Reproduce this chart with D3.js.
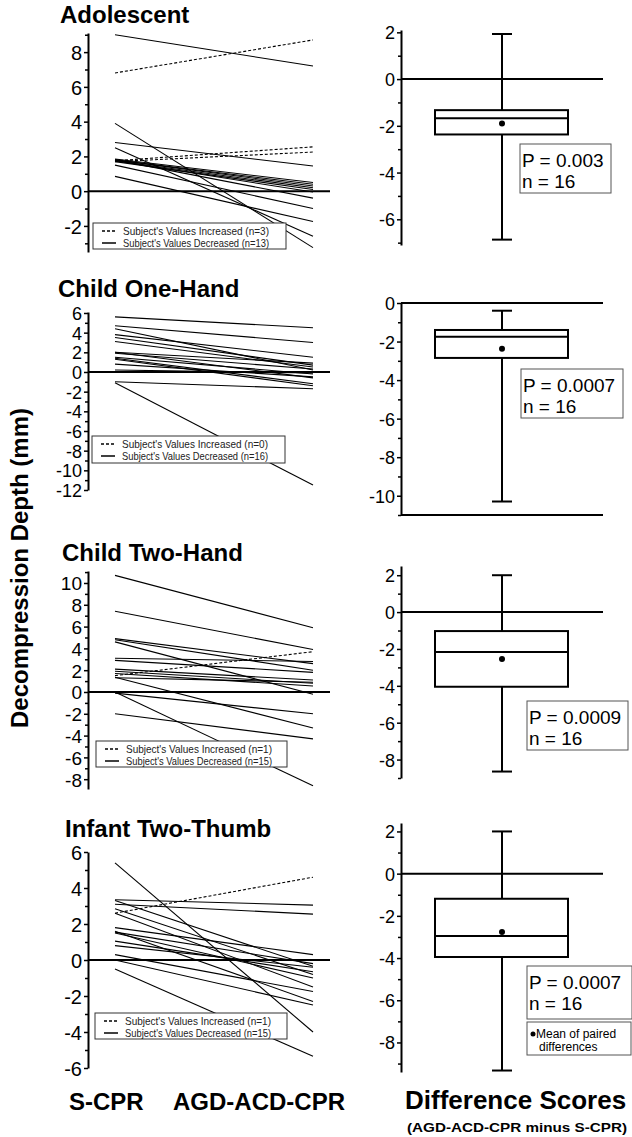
<!DOCTYPE html>
<meta charset="utf-8">
<html>
<head>
<style>
body { margin: 0; background: #fff; }
svg { display: block; font-family: "Liberation Sans", Arial, sans-serif; }
</style>
</head>
<body>
<svg id="chart" width="632" height="1137"></svg>
<script src="https://cdn.jsdelivr.net/npm/d3@7/dist/d3.min.js"></script>
<script>

const groups = ["Adolescent", "Child One-Hand", "Child Two-Hand", "Infant Two-Thumb"]

// paired values, S-CPR then AGD-ACD-CPR (mm)
const adolescentS = [6.8, 1.75, 1.7, 9.0, 3.9, 2.8, 2.5, 1.85, 1.8, 1.8, 1.75, 1.7, 1.75, 1.8, 1.5, 0.85]
const adolescentA = [8.7, 2.55, 2.25, 7.2, -3.25, 1.45, -2.6, 0.5, 0.4, 0.3, 0.2, 0.1, -0.05, -0.4, -1.0, -1.75]
const oneHandS = [5.6, 4.7, 4.4, 3.8, 3.5, 3.1, 2.0, 1.9, 1.5, 1.4, 1.3, 0.8, 0.2, 2.0, -1.0, -1.1]
const oneHandA = [4.5, 3.0, 0.2, 1.5, 0.7, 0.5, 0.9, 0.3, -0.2, -1.2, -1.4, -0.5, -0.1, -0.6, -1.7, -11.5]
const twoHandS = [10.7, 7.4, 4.9, 4.8, 4.6, 3.1, 2.9, 2.1, 1.9, 1.7, 1.5, 1.35, 1.3, 0.0, -0.1, -2.0]
const twoHandA = [5.9, 3.9, 2.6, 2.0, -0.2, 2.8, 1.8, 1.1, 0.8, 0.55, 3.7, -3.3, 0.9, -8.6, -2.0, -4.3]
const infantS = [5.4, 3.35, 3.1, 2.6, 2.85, 2.6, 1.8, 1.55, 1.5, 1.05, 0.8, 0.3, 1.6, 0.0, -0.5, 3.3]
const infantA = [-4.0, 3.05, 2.55, 4.6, -0.8, -1.5, 0.3, -0.2, -1.0, -0.65, -0.4, -1.75, -2.3, -2.5, -5.35, -0.35]

const increasedN = [3, 0, 1, 1]
const decreasedN = [13, 16, 15, 15]

// difference score box plots
const whiskerHigh = [1.93, -0.4, 2.0, 2.0]
const boxQ3 = [-1.33, -1.4, -1.03, -1.19]
const boxMedian = [-1.68, -1.75, -2.16, -2.95]
const boxQ1 = [-2.37, -2.85, -4.05, -3.95]
const whiskerLow = [-6.87, -10.3, -8.65, -9.33]
const meanDiff = [-1.9, -2.37, -2.54, -2.76]
const pValues = ["0.003", "0.0007", "0.0009", "0.0007"]
const nValues = [16, 16, 16, 16]

const leftTicks = [d3.range(-2, 9, 2), d3.range(-12, 7, 2), d3.range(-8, 11, 2), d3.range(-6, 7, 2)]
const rightTicks = [d3.range(-6, 3, 2), d3.range(-10, 1, 2), d3.range(-8, 3, 2), d3.range(-8, 3, 2)]

const pairs = [[adolescentS, adolescentA], [oneHandS, oneHandA], [twoHandS, twoHandA], [infantS, infantA]]

// layout (pixels)
const leftLayout = [
  {dom: [-3.5, 9.1], rng: [252, 33], title: 23, tick: 20, leg: [93, 223, 193, 26]},
  {dom: [-12, 6.1], rng: [490, 312], title: 297, tick: 18, leg: [92, 436, 193, 27]},
  {dom: [-8.9, 11.1], rng: [789, 571], title: 561, tick: 19, leg: [96, 741, 191, 26]},
  {dom: [-6, 6], rng: [1068, 852], title: 837, tick: 20, leg: [95, 1013, 192, 26]}
]
const rightLayout = [
  {dom: [-7.1, 2.1], rng: [245, 30], pbox: [520, 144, 91, 49]},
  {dom: [-11, 0], rng: [515, 303], pbox: [521, 369, 102, 49]},
  {dom: [-9, 2.5], rng: [778, 566], pbox: [527, 701, 101, 49]},
  {dom: [-9.4, 2.4], rng: [1072, 823], pbox: [527, 966, 105, 53]}
]
const titleX = [60, 58, 62, 65]

const svg = d3.select("#chart")
const x = d3.scalePoint().domain(["S-CPR", "AGD-ACD-CPR"]).range([115, 313])
const axL = 88, axR = 401, bx = 502
const fmt = d => String(d)   // plain hyphen minus, like the original

groups.forEach((g, i) => {
  const L = leftLayout[i], R = rightLayout[i]

  // ---- left: paired lines
  const y = d3.scaleLinear().domain(L.dom).range(L.rng)
  const gl = svg.append("g")

  gl.append("text").attr("x", titleX[i]).attr("y", L.title)
    .attr("font-size", 24).attr("font-weight", "bold").text(g)

  const minor = d3.range(Math.ceil(L.dom[0]), Math.floor(L.dom[1]) + 1).filter(v => Math.abs(v % 2) == 1)
  gl.append("g").attr("transform", "translate(" + axL + ",0)")
    .call(d3.axisLeft(y).tickValues(minor).tickSize(3).tickFormat(""))
    .call(s => s.select(".domain").remove())
    .selectAll("line").attr("stroke-width", 1.5)
  const ax = gl.append("g").attr("transform", "translate(" + axL + ",0)")
    .call(d3.axisLeft(y).tickValues(leftTicks[i]).tickFormat(fmt).tickSize(4).tickPadding(2).tickSizeOuter(0))
  ax.select(".domain").attr("stroke-width", 2)
  ax.selectAll("line").attr("stroke-width", 1.5)
  ax.selectAll("text").attr("font-size", L.tick).attr("font-family", "Liberation Sans, Arial").attr("dy", "0.36em")

  gl.append("line").attr("x1", axL).attr("x2", 330).attr("y1", y(0)).attr("y2", y(0))
    .attr("stroke", "#000").attr("stroke-width", 2)

  const S = pairs[i][0], A = pairs[i][1]
  gl.selectAll("line.pair").data(S.map((s, k) => ({s: s, a: A[k]})))
    .join("line").attr("class", "pair")
    .attr("x1", x("S-CPR")).attr("x2", x("AGD-ACD-CPR"))
    .attr("y1", d => y(d.s)).attr("y2", d => y(d.a))
    .attr("stroke", "#000").attr("stroke-width", 1.1)
    .attr("stroke-dasharray", d => d.a > d.s ? "3,2" : null)

  // legend
  const lg = gl.append("g")
  lg.append("rect").attr("x", L.leg[0]).attr("y", L.leg[1]).attr("width", L.leg[2]).attr("height", L.leg[3])
    .attr("fill", "#fff").attr("stroke", "#333").attr("stroke-width", 1)
  const legRows = [["3,2", "Subject's Values Increased (n=" + increasedN[i] + ")"],
                   [null, "Subject's Values Decreased (n=" + decreasedN[i] + ")"]]
  legRows.forEach((r, k) => {
    const ly = L.leg[1] + 8 + k * 12
    lg.append("line").attr("x1", L.leg[0] + 9).attr("x2", L.leg[0] + 23).attr("y1", ly).attr("y2", ly)
      .attr("stroke", "#000").attr("stroke-width", 1.5).attr("stroke-dasharray", r[0])
    lg.append("text").attr("x", L.leg[0] + 30).attr("y", ly + 4).attr("font-size", 11)
      .attr("textLength", 146).attr("lengthAdjust", "spacingAndGlyphs").attr("fill", "#222").text(r[1])
  })

  // ---- right: box plot of differences
  const yr = d3.scaleLinear().domain(R.dom).range(R.rng)
  const gr = svg.append("g")
  const rminor = d3.range(Math.ceil(R.dom[0]), Math.floor(R.dom[1]) + 1).filter(v => Math.abs(v % 2) == 1)
  gr.append("g").attr("transform", "translate(" + axR + ",0)")
    .call(d3.axisLeft(yr).tickValues(rminor).tickSize(3).tickFormat(""))
    .call(s => s.select(".domain").remove())
    .selectAll("line").attr("stroke-width", 1.5)
  const axr = gr.append("g").attr("transform", "translate(" + axR + ",0)")
    .call(d3.axisLeft(yr).tickValues(rightTicks[i]).tickFormat(fmt).tickSize(4).tickPadding(2).tickSizeOuter(0))
  axr.select(".domain").attr("stroke-width", 2)
  axr.selectAll("line").attr("stroke-width", 1.5)
  axr.selectAll("text").attr("font-size", 18).attr("font-family", "Liberation Sans, Arial").attr("dy", "0.36em")

  gr.append("line").attr("x1", axR).attr("x2", 603).attr("y1", yr(0)).attr("y2", yr(0))
    .attr("stroke", "#000").attr("stroke-width", 2)
  if (R.dom[0] == -11) {
    gr.append("line").attr("x1", axR).attr("x2", 603).attr("y1", yr(-11)).attr("y2", yr(-11))
      .attr("stroke", "#000").attr("stroke-width", 2)
  }

  const st = {lo: whiskerLow[i], q1: boxQ1[i], md: boxMedian[i], q3: boxQ3[i], hi: whiskerHigh[i]}
  const bs = {fill: "none", stroke: "#000", "stroke-width": 2}
  const add = (tag, at) => { const e = gr.append(tag); Object.entries(Object.assign({}, bs, at)).forEach(([k, v]) => e.attr(k, v)); return e }
  add("line", {x1: bx, x2: bx, y1: yr(st.hi), y2: yr(st.q3)})
  add("line", {x1: bx, x2: bx, y1: yr(st.q1), y2: yr(st.lo)})
  add("line", {x1: bx - 10, x2: bx + 10, y1: yr(st.hi), y2: yr(st.hi)})
  add("line", {x1: bx - 10, x2: bx + 10, y1: yr(st.lo), y2: yr(st.lo)})
  add("rect", {x: 435, width: 133, y: yr(st.q3), height: yr(st.q1) - yr(st.q3), fill: "#fff"})
  add("line", {x1: 435, x2: 568, y1: yr(st.md), y2: yr(st.md)})
  gr.append("circle").attr("cx", bx).attr("cy", yr(meanDiff[i])).attr("r", 3).attr("fill", "#000")

  const pb = R.pbox
  gr.append("rect").attr("x", pb[0]).attr("y", pb[1]).attr("width", pb[2]).attr("height", pb[3])
    .attr("fill", "#fff").attr("stroke", "#555").attr("stroke-width", 1)
  gr.append("text").attr("x", pb[0] + 2).attr("y", pb[1] + 23).attr("font-size", 19).text("P = " + pValues[i])
  gr.append("text").attr("x", pb[0] + 2).attr("y", pb[1] + 44).attr("font-size", 19).text("n = " + nValues[i])
})

// mean legend
svg.append("rect").attr("x", 527).attr("y", 1022).attr("width", 104).attr("height", 33)
  .attr("fill", "#fff").attr("stroke", "#555").attr("stroke-width", 1)
svg.append("circle").attr("cx", 533).attr("cy", 1034).attr("r", 2.5).attr("fill", "#000")
svg.append("text").attr("x", 536).attr("y", 1038).attr("font-size", 12).text("Mean of paired")
svg.append("text").attr("x", 539).attr("y", 1051).attr("font-size", 12).text("differences")

// axis titles
svg.append("text").attr("transform", "translate(28,568) rotate(-90)").attr("text-anchor", "middle")
  .attr("font-size", 24).attr("font-weight", "bold").text("Decompression Depth (mm)")
svg.append("text").attr("x", 69).attr("y", 1110).attr("font-size", 24).attr("font-weight", "bold").text("S-CPR")
svg.append("text").attr("x", 173).attr("y", 1110).attr("font-size", 24).attr("font-weight", "bold").text("AGD-ACD-CPR")
svg.append("text").attr("x", 405).attr("y", 1109).attr("font-size", 26).attr("font-weight", "bold")
  .text("Difference Scores")
svg.append("text").attr("x", 407).attr("y", 1132).attr("font-size", 13).attr("font-weight", "bold")
  .attr("textLength", 220).attr("lengthAdjust", "spacingAndGlyphs").text("(AGD-ACD-CPR minus S-CPR)")
</script>
</body>
</html>
